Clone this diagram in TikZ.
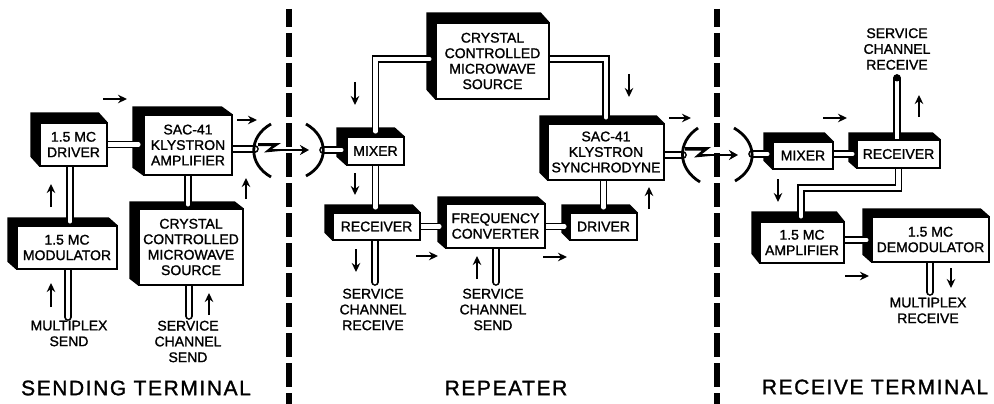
\documentclass[tikz,border=0pt]{standalone}
\usepackage{fontspec}
\usetikzlibrary{arrows.meta}
\setmainfont[FakeBold=1.3]{Liberation Sans}
\newfontfamily\headfont[LetterSpace=7.5,FakeBold=1.3]{Liberation Sans}
\pgfdeclarelayer{sides}
\pgfdeclarelayer{tubes}
\pgfsetlayers{sides,tubes,main}
\tikzset{
    block/.style={draw, line width=1.4pt, fill=white, inner sep=0pt, align=center, font=\fontsize{14}{15.5}\selectfont},
    caption/.style={inner sep=0pt, align=center, font=\fontsize{14}{15.8}\selectfont},
    heading/.style={inner sep=0pt, font=\fontsize{21}{24}\headfont},
    tube/.style={draw=black, line width=1.6pt, double=white, double distance=4.5pt, line cap=round},
    flow/.style={-{Stealth[length=9pt, width=8.5pt]}, line width=1.3pt},
    beam/.style={-{Stealth[length=9pt, width=10pt]}, line width=2.2pt},
    dish/.style={line width=2.8pt},
    divider/.style={line width=6pt, dash pattern=on 24pt off 6pt, dash phase=6pt}
}

\begin{document}
\begin{tikzpicture}[x=1pt, y=-1pt]
    \useasboundingbox (0,0) rectangle (994,404);

    % Sending terminal
    \node (driver) [block, minimum width=67, minimum height=43] at (73.5,144.5) {1.5 MC\\DRIVER};
    \node (amplifier) [block, minimum width=88, minimum height=60] at (188,145) {SAC-41\\KLYSTRON\\AMPLIFIER};
    \node (modulator) [block, minimum width=100, minimum height=43] at (67,247.5) {1.5 MC\\MODULATOR};
    \node (sourceA) [block, minimum width=104, minimum height=76] at (191,247) {CRYSTAL\\CONTROLLED\\MICROWAVE\\SOURCE};
    \node (muxsend) [caption] at (69,333.5) {MULTIPLEX\\SEND};
    \node (svcsendA) [caption] at (188,341.5) {SERVICE\\CHANNEL\\SEND};
    \node (termA) [heading] at (136,388) {SENDING TERMINAL};

    % Repeater
    \node (sourceB) [block, minimum width=113, minimum height=76] at (492.5,61) {CRYSTAL\\CONTROLLED\\MICROWAVE\\SOURCE};
    \node (mixerA) [block, minimum width=57, minimum height=28] at (375.5,151) {MIXER};
    \node (synchro) [block, minimum width=116, minimum height=56] at (606,152) {SAC-41\\KLYSTRON\\SYNCHRODYNE};
    \node (receiverA) [block, minimum width=87, minimum height=27] at (376.5,226.5) {RECEIVER};
    \node (converter) [block, minimum width=99, minimum height=44] at (495.5,226) {FREQUENCY\\CONVERTER};
    \node (driverB) [block, minimum width=67, minimum height=27] at (603.5,226.5) {DRIVER};
    \node (svcrecvA) [caption] at (373,309.5) {SERVICE\\CHANNEL\\RECEIVE};
    \node (svcsendB) [caption] at (493,309.5) {SERVICE\\CHANNEL\\SEND};
    \node (termB) [heading] at (506,388) {REPEATER};

    % Receive terminal
    \node (mixerB) [block, minimum width=60, minimum height=27] at (803,155.5) {MIXER};
    \node (receiverB) [block, minimum width=83, minimum height=28] at (898.5,154) {RECEIVER};
    \node (amplifierB) [block, minimum width=84, minimum height=41] at (802,242.5) {1.5 MC\\AMPLIFIER};
    \node (demod) [block, minimum width=117, minimum height=45] at (930.5,239.5) {1.5 MC\\DEMODULATOR};
    \node (svcrecvB) [caption] at (897,49) {SERVICE\\CHANNEL\\RECEIVE};
    \node (muxrecv) [caption] at (928,310.5) {MULTIPLEX\\RECEIVE};
    \node (termC) [heading] at (875,387) {RECEIVE TERMINAL};

    % Black top and left faces of the boxes
    \begin{pgfonlayer}{sides}
    \foreach \name/\dx/\dy in {driver/9/10, amplifier/11/8, modulator/9/8, sourceA/9/7,
        sourceB/9/10, mixerA/10/9, synchro/8/8, receiverA/8/8, converter/8/7, driverB/8/8,
        mixerB/9/9, receiverB/8/7, amplifierB/8/10, demod/9/8} {
        \fill (\name.south west) -- ++(-\dx,-\dy) -- ([xshift=-\dx pt, yshift=\dy pt]\name.north west)
            -- ([xshift=-\dx pt, yshift=\dy pt]\name.north east) -- (\name.north east) -- (\name.north west) -- cycle;
    }
    \end{pgfonlayer}

    % Free ends of the tubes
    \coordinate (muxin) at (68,317);
    \coordinate (svcinA) at (189,316);
    \coordinate (svcoutA) at (375,282);
    \coordinate (svcinB) at (496,282);
    \coordinate (svcoutB) at (897,78);
    \coordinate (muxout) at (930,292);
    \coordinate (feedA) at (255,149);
    \coordinate (feedB) at (323,150);
    \coordinate (feedC) at (683,155);
    \coordinate (feedD) at (752,154);

    % Waveguides
    \begin{pgfonlayer}{tubes}
    \draw[tube] (driver.east) -- ([xshift=-5pt]driver.east -| amplifier.west);
    \draw[tube] (driver.south -| 70,0) -- ([yshift=4pt]modulator.north -| 70,0);
    \draw[tube] (modulator.south -| muxin) -- (muxin);
    \draw[tube] (amplifier.south) -- ([yshift=4pt]sourceA.north -| amplifier.south);
    \draw[tube] (sourceA.south -| svcinA) -- (svcinA);
    \draw[tube] (amplifier.east |- feedA) -- (feedA);
    \draw[tube] (feedB) -- ([xshift=-5pt]mixerA.west |- feedB);
    \draw[tube] ([xshift=-6pt]sourceB.west |- 0,59) -| ([yshift=5pt]mixerA.north);
    \draw[tube] (sourceB.east |- 0,59) -| ([yshift=6pt]synchro.north);
    \draw[tube] (synchro.east |- feedC) -- (feedC);
    \draw[tube] (synchro.south -| driverB.north) -- ([yshift=5pt]driverB.north);
    \draw[tube] (mixerA.south) -- ([yshift=5pt]receiverA.north -| mixerA.south);
    \draw[tube] (receiverA.south -| svcoutA) -- (svcoutA);
    \draw[tube] (receiverA.east) -- ([xshift=-6pt]converter.west |- receiverA.east);
    \draw[tube] (converter.east |- driverB.west) -- ([xshift=-5pt]driverB.west);
    \draw[tube] (converter.south -| svcinB) -- (svcinB);
    \draw[tube] (feedD) -- ([xshift=-5pt]mixerB.west |- feedD);
    \draw[tube] (mixerB.east |- receiverB.west) -- ([xshift=-4pt]receiverB.west);
    \draw[tube] (receiverB.north -| svcoutB) -- (svcoutB);
    \draw[tube] (receiverB.south) |- (801,188) -- ([yshift=5pt]amplifierB.north -| 801,0);
    \draw[tube] (amplifierB.east |- 0,240) -- ([xshift=-5pt]demod.west |- 0,240);
    \draw[tube] (demod.south -| muxout) -- (muxout);
    \end{pgfonlayer}
    \fill (svcoutB) circle (3.5);

    % Section dividers
    \draw[divider] (288.5,9) -- (288.5,404);
    \draw[divider] (717,9) -- (717,404);

    % Antennas and beams
    \draw[dish] (271,124) .. controls (248,137) and (248,164) .. (271,177);
    \draw[dish] (306,124) .. controls (329,137) and (329,164) .. (306,176);
    \draw[dish] (698,128) .. controls (677,142) and (677,168) .. (700,182);
    \draw[dish] (734,128) .. controls (758,142) and (758,168) .. (735,181);
    \fill (258,143) -- (281,143) -- (272,149) -- (280,149) -- (280,151) -- (264,152.5) -- (272,146) -- (258,146) -- cycle;
    \draw[beam] (272,150) -- (309,150);
    \fill (685,147) -- (711,147) -- (702,154) -- (710,154) -- (710,156) -- (694,157.5) -- (702,150.5) -- (685,150.5) -- cycle;
    \draw[beam] (702,155) -- (738,155);

    % Signal direction arrows
    \foreach \xa/\ya/\xb/\yb in {103/99/127/99, 237/120/257/120, 51/207/51/184, 246/199/246/178,
        51/307/51/283, 209/315/209/293, 355/82/355/105, 629/74/629/97, 669/118/691/118,
        355/173/355/195, 649/209/649/187, 356/249/356/272, 416/256/438/256, 477/279/477/256,
        543/257/567/257, 823/118/847/118, 919/117/919/95, 778/179/778/202,
        845/276/869/276, 951/268/951/288} {
        \draw[flow] (\xa,\ya) -- (\xb,\yb);
    }

\end{tikzpicture}
\end{document}
